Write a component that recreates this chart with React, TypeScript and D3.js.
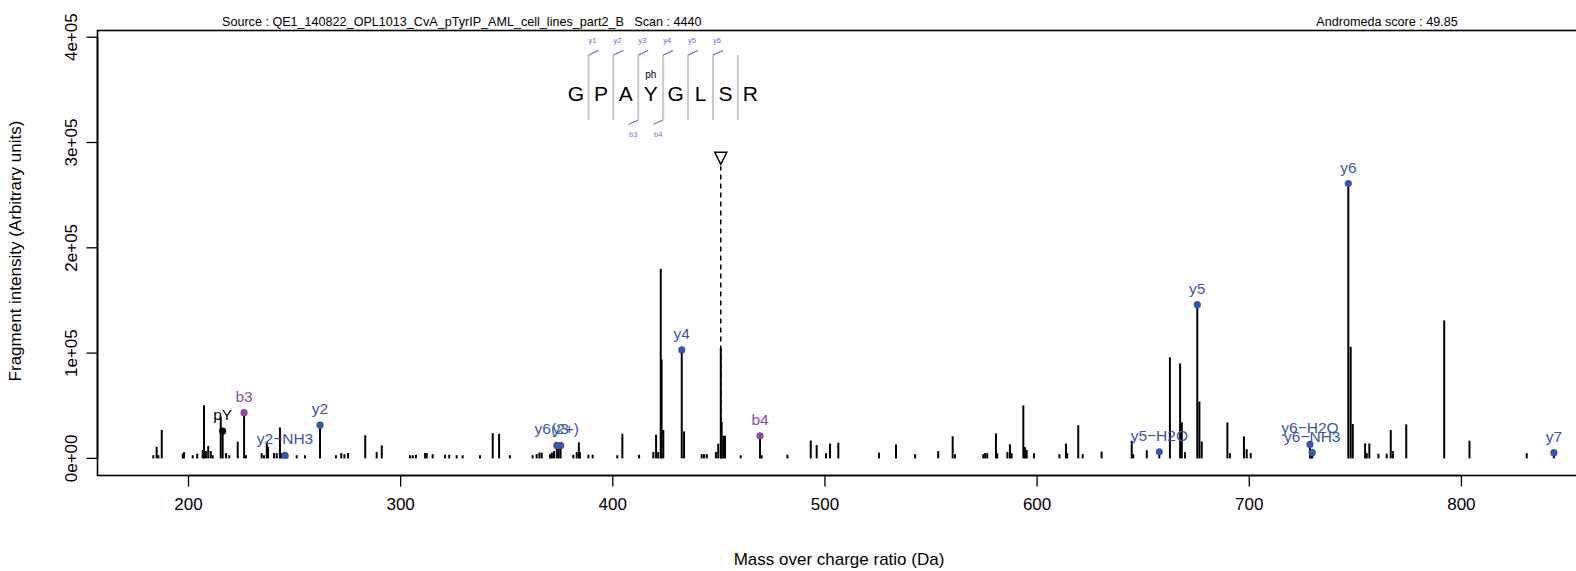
import React from "react";
import * as d3 from "d3";

// ---------- data ----------
const peakMz = [
  183.4, 185.0, 185.8, 187.4, 197.3, 197.9, 202.0, 204.1, 206.7, 207.3, 208.2, 209.3, 210.5, 211.4,
  215.2, 217.7, 219.2, 223.2, 227.1, 234.5, 235.6, 236.9, 237.5, 240.3, 241.6, 243.1, 243.9, 246.6,
  251.0, 254.9, 269.5, 272.0, 273.5, 275.2, 283.3, 288.7, 291.1, 304.4, 305.7, 307.2, 311.5, 312.3,
  315.1, 320.9, 322.9, 326.4, 329.2, 337.4, 343.4, 346.4, 351.5, 362.2, 364.1, 365.4, 366.5, 370.4,
  371.3, 372.3, 374.5, 381.4, 383.0, 384.0, 384.5, 388.5, 390.5, 402.1, 404.5, 412.4, 419.1, 420.4,
  421.4, 422.6, 423.0, 423.8, 433.6, 441.9, 443.0, 444.3, 448.6, 449.7, 450.9, 451.3, 452.1, 452.9,
  460.3, 470.2, 482.3, 493.3, 496.1, 500.5, 502.4, 506.3, 525.5, 533.5, 542.5, 553.4, 560.2, 561.3,
  574.6, 575.5, 576.5, 580.6, 581.2, 586.0, 587.2, 588.0, 593.5, 594.3, 595.1, 598.5, 610.5, 613.6,
  614.2, 619.4, 621.5, 630.4, 644.6, 645.3, 651.7, 662.6, 667.4, 668.2, 669.7, 676.5, 677.6, 689.7,
  690.9, 697.5, 698.8, 700.7, 729.2, 747.8, 748.8, 754.6, 755.4, 756.6, 760.9, 764.8, 766.7, 767.7,
  774.0, 791.9, 803.8, 830.8,
];
const peakIntensity = [
  3000, 11000, 3000, 27000, 4500, 6000, 3000, 4500, 8000, 50500, 7000, 11700, 7000, 3000,
  39600, 5000, 3000, 15800, 3000, 5000, 3000, 15800, 11000, 5000, 5000, 29400, 5000, 3000,
  3000, 3000, 3000, 5000, 4000, 5000, 22000, 6000, 12300, 3000, 3000, 3500, 5000, 5000,
  4000, 3500, 3500, 3000, 3000, 3000, 24000, 23400, 3000, 3000, 4000, 5500, 5500, 4000,
  5500, 7000, 9500, 3500, 6000, 15200, 6000, 3500, 3500, 3000, 23400, 3500, 6000, 22500,
  6000, 180000, 94000, 27000, 25600, 4000, 4000, 4000, 6000, 14000, 105000, 35000, 21500, 21500,
  3000, 3000, 3500, 17000, 12700, 5000, 14000, 14900, 5500, 13300, 4000, 7000, 21000, 4000,
  4000, 5000, 5000, 23700, 5000, 6000, 13300, 5000, 50300, 10700, 8000, 5000, 4000, 14000,
  5000, 31600, 4000, 6500, 16800, 4000, 7700, 96000, 90200, 34200, 6000, 54000, 16100, 34200,
  5000, 20900, 8700, 5000, 5000, 106000, 32600, 14200, 5000, 14200, 4500, 4500, 27000, 7000,
  32300, 131000, 16800, 5000,
];

const ionLabels = ["pY", "b3", "y2\u2212NH3", "y2", "y6(2+)", "y3", "y4", "b4", "y5\u2212H2O", "y5", "y6\u2212H2O", "y6\u2212NH3", "y6", "y7"];
const ionMz = [216.1, 226.2, 245.5, 262.0, 373.6, 375.4, 432.5, 469.4, 657.6, 675.5, 728.6, 729.7, 746.7, 843.6];
const ionIntensity = [26000, 43400, 3000, 31600, 12300, 12300, 103000, 21500, 6300, 146000, 13300, 5400, 261000, 5400];
const ionType = ["imm", "b", "y", "y", "y", "y", "y", "b", "y", "y", "y", "y", "y", "y"];

const precursorMz = 450.9;
const precursorIntensity = 285000;

const sequence = ["G", "P", "A", "Y", "G", "L", "S", "R"];
const yMarks = [1, 2, 3, 4, 5, 6];
const bMarks = [3, 4];

const xTicks = [200, 300, 400, 500, 600, 700, 800];
const yTicks = [0, 100000, 200000, 300000, 400000];
const yTickLabels = ["0e+00", "1e+05", "2e+05", "3e+05", "4e+05"];

const sourceText = "Source : QE1_140822_OPL1013_CvA_pTyrIP_AML_cell_lines_part2_B   Scan : 4440";
const scoreText = "Andromeda score : 49.85";

// ---------- layout ----------
const W = 1576;
const H = 571;
const box = { left: 97.5, top: 30.5, right: 1600, bottom: 475.5 };
const FONT = "'Liberation Sans', Arial, Helvetica, sans-serif";
const BLUE = "#3A56A8";
const PURPLE = "#8A4C9E";
const LBLUE = "#5B72C4";
const LPURPLE = "#9A63B3";

export default function App() {
  const x = d3.scaleLinear().domain([200, 800]).range([188.5, 1461.4]);
  const y = d3.scaleLinear().domain([0, 400000]).range([458.4, 37.2]);

  const ionColor = (t: string) => (t === "b" ? PURPLE : t === "y" ? BLUE : "#000");

  // peptide annotation geometry
  const seqX0 = 576;
  const seqStep = 24.9;
  const seqY = 101;
  const sepTop = 55;
  const sepBot = 120;

  return (
    <svg
      width={W}
      height={H}
      style={{ position: "absolute", left: 0, top: 0, background: "#fff" }}
      fontFamily={FONT}
    >
      {/* header */}
      <text x={222} y={26} fontSize={12.6} fill="#000" xmlSpace="preserve">
        {sourceText}
      </text>
      <text x={1387} y={26} fontSize={12.6} textAnchor="middle" fill="#000">
        {scoreText}
      </text>

      {/* peaks */}
      {peakMz.map((m, i) => (
        <line
          key={"p" + i}
          x1={x(m)}
          x2={x(m)}
          y1={y(0)}
          y2={y(peakIntensity[i])}
          stroke="#000"
          strokeWidth={2}
        />
      ))}

      {/* precursor */}
      <line
        x1={x(precursorMz)}
        x2={x(precursorMz)}
        y1={y(0)}
        y2={y(precursorIntensity) + 8}
        stroke="#000"
        strokeWidth={1.5}
        strokeDasharray="5,4"
      />
      <path
        d={`M${x(precursorMz) - 6},${y(precursorIntensity) - 6} L${x(precursorMz) + 6},${y(precursorIntensity) - 6} L${x(precursorMz)},${y(precursorIntensity) + 6} Z`}
        fill="none"
        stroke="#000"
        strokeWidth={1.5}
      />

      {/* annotated ions */}
      {ionMz.map((m, i) => (
        <g key={"ion" + i}>
          <line x1={x(m)} x2={x(m)} y1={y(0)} y2={y(ionIntensity[i])} stroke="#000" strokeWidth={2} />
          <circle cx={x(m)} cy={y(ionIntensity[i])} r={3.6} fill={ionColor(ionType[i])} />
          <text
            x={x(m)}
            y={y(ionIntensity[i]) - 11}
            fontSize={15.5}
            textAnchor="middle"
            fill={ionColor(ionType[i])}
          >
            {ionLabels[i]}
          </text>
        </g>
      ))}

      {/* peptide sequence */}
      {sequence.map((s, i) => (
        <text key={"s" + i} x={seqX0 + i * seqStep} y={seqY} fontSize={21} textAnchor="middle" fill="#000">
          {s}
        </text>
      ))}
      <text x={seqX0 + 3 * seqStep} y={78} fontSize={10} textAnchor="middle" fill="#000">
        ph
      </text>
      {sequence.slice(0, -1).map((_, i) => {
        const sx = seqX0 + (i + 0.5) * seqStep;
        return <line key={"sep" + i} x1={sx} x2={sx} y1={sepTop} y2={sepBot} stroke="#c8c8c8" strokeWidth={2} />;
      })}
      {yMarks.map((k) => {
        const sx = seqX0 + (k - 0.5) * seqStep;
        return (
          <g key={"ym" + k}>
            <line x1={sx} x2={sx + 10} y1={sepTop} y2={sepTop - 4.5} stroke={LBLUE} strokeWidth={1.2} />
            <text x={sx + 4} y={43} fontSize={7.5} textAnchor="middle" fill={LBLUE}>
              {"y" + k}
            </text>
          </g>
        );
      })}
      {bMarks.map((k) => {
        const sx = seqX0 + (k - 0.5) * seqStep;
        return (
          <g key={"bm" + k}>
            <line x1={sx} x2={sx - 10} y1={sepBot} y2={sepBot + 4.5} stroke={LPURPLE} strokeWidth={1.2} />
            <text x={sx - 5} y={137} fontSize={7.5} textAnchor="middle" fill={LPURPLE}>
              {"b" + k}
            </text>
          </g>
        );
      })}

      {/* frame */}
      <rect
        x={box.left}
        y={box.top}
        width={box.right - box.left}
        height={box.bottom - box.top}
        fill="none"
        stroke="#000"
        strokeWidth={1.6}
      />

      {/* x axis */}
      <line x1={x(200)} x2={x(800)} y1={box.bottom} y2={box.bottom} stroke="#000" strokeWidth={1.6} />
      {xTicks.map((t) => (
        <g key={"xt" + t}>
          <line x1={x(t)} x2={x(t)} y1={box.bottom} y2={box.bottom + 11} stroke="#000" strokeWidth={1.3} />
          <text x={x(t)} y={510} fontSize={17} textAnchor="middle" fill="#000">
            {t}
          </text>
        </g>
      ))}
      <text x={839} y={565} fontSize={17} textAnchor="middle" fill="#000">
        Mass over charge ratio (Da)
      </text>

      {/* y axis */}
      <line x1={box.left} x2={box.left} y1={y(0)} y2={y(400000)} stroke="#000" strokeWidth={1.6} />
      {yTicks.map((t, i) => (
        <g key={"yt" + t}>
          <line x1={box.left - 11} x2={box.left} y1={y(t)} y2={y(t)} stroke="#000" strokeWidth={1.3} />
          <text
            transform={`translate(77,${y(t)}) rotate(-90)`}
            fontSize={17}
            textAnchor="middle"
            fill="#000"
          >
            {yTickLabels[i]}
          </text>
        </g>
      ))}
      <text transform={`translate(21,251) rotate(-90)`} fontSize={17} textAnchor="middle" fill="#000">
        Fragment intensity (Arbitrary units)
      </text>
    </svg>
  );
}
